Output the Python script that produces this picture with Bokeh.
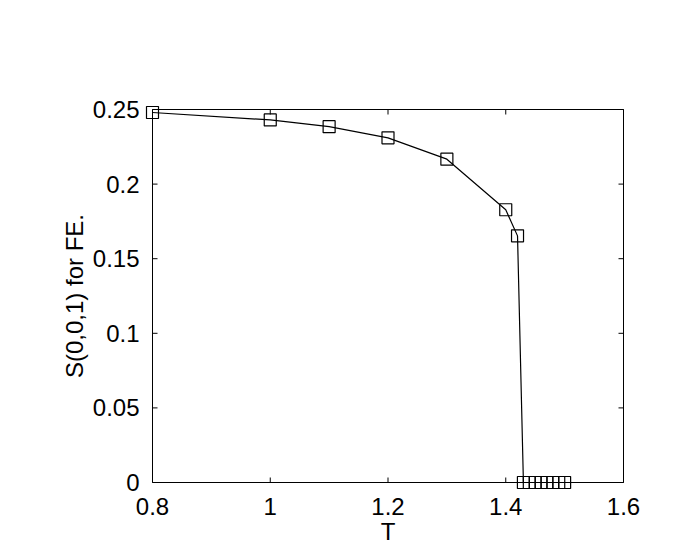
import math
from bokeh.plotting import figure
from bokeh.models import FixedTicker, Range1d
from bokeh.embed import file_html
from bokeh.resources import INLINE

T = [0.8, 1.0, 1.1, 1.2, 1.3, 1.4, 1.42, 1.43, 1.44, 1.45, 1.46, 1.47, 1.48, 1.49, 1.5]
S = [0.248, 0.243, 0.2385, 0.231, 0.2167, 0.1828, 0.1653, 0, 0, 0, 0, 0, 0, 0, 0]
xticks = [0.8, 1.0, 1.2, 1.4, 1.6]
xlabels = {0.8: "0.8", 1.0: "1", 1.2: "1.2", 1.4: "1.4", 1.6: "1.6"}
yticks = [0, 0.05, 0.1, 0.15, 0.2, 0.25]
ylabels = {0: "0", 0.05: "0.05", 0.1: "0.1", 0.15: "0.15", 0.2: "0.2", 0.25: "0.25"}
x0, x1 = xticks[0], xticks[-1]
y0, y1 = yticks[0], yticks[-1]

# box in page pixels: left 152, right 623, top 109, bottom 482; pad so markers are not clipped
W, H = 686, 556
BL, BR, BT, BB = 152, 623, 109, 482
PAD = 8
bw, bh = BR - BL, BB - BT
dx = PAD * (x1 - x0) / bw
dy = PAD * (y1 - y0) / bh

p = figure(width=W, height=H, output_backend="svg", toolbar_location=None,
           x_range=Range1d(x0 - dx, x1 + dx), y_range=Range1d(y0 - dy, y1 + dy),
           min_border_left=BL - PAD, min_border_right=W - BR - PAD,
           min_border_top=BT - PAD, min_border_bottom=H - BB - PAD,
           x_axis_label="T", y_axis_label="S(0,0,1) for FE.")
p.xgrid.visible = False
p.ygrid.visible = False
p.outline_line_color = None

# axes box and inward ticks
p.quad(left=x0, right=x1, bottom=y0, top=y1, fill_color=None, line_color="black", line_width=1)
TL = 5
p.ray(x=xticks, y=[y0] * len(xticks), length=TL, length_units="screen", angle=math.pi / 2, line_color="black")
p.ray(x=xticks, y=[y1] * len(xticks), length=TL, length_units="screen", angle=-math.pi / 2, line_color="black")
p.ray(x=[x0] * len(yticks), y=yticks, length=TL, length_units="screen", angle=0, line_color="black")
p.ray(x=[x1] * len(yticks), y=yticks, length=TL, length_units="screen", angle=math.pi, line_color="black")

p.line(T, S, line_color="black", line_width=1.2)
p.scatter(T, S, marker="square", size=12, fill_color=None, line_color="black", line_width=1.2)

font = "Liberation Sans"
for ax in p.xaxis:
    ax.ticker = FixedTicker(ticks=xticks)
    ax.major_label_overrides = xlabels
    ax.major_label_standoff = 1
    ax.axis_label_standoff = 0
for ax in p.yaxis:
    ax.ticker = FixedTicker(ticks=yticks)
    ax.major_label_overrides = ylabels
    ax.major_label_standoff = -1
    ax.axis_label_standoff = 2

for ax in list(p.xaxis) + list(p.yaxis):
    ax.major_tick_line_color = None
    ax.minor_tick_line_color = None
    ax.axis_line_color = None
    ax.major_label_text_font = font
    ax.major_label_text_font_size = "24px"
    ax.major_label_text_color = "black"
    ax.axis_label_text_font = font
    ax.axis_label_text_font_size = "24px"
    ax.axis_label_text_font_style = "normal"
    ax.axis_label_text_color = "black"

open("out.html", "w").write(file_html(p, INLINE))
